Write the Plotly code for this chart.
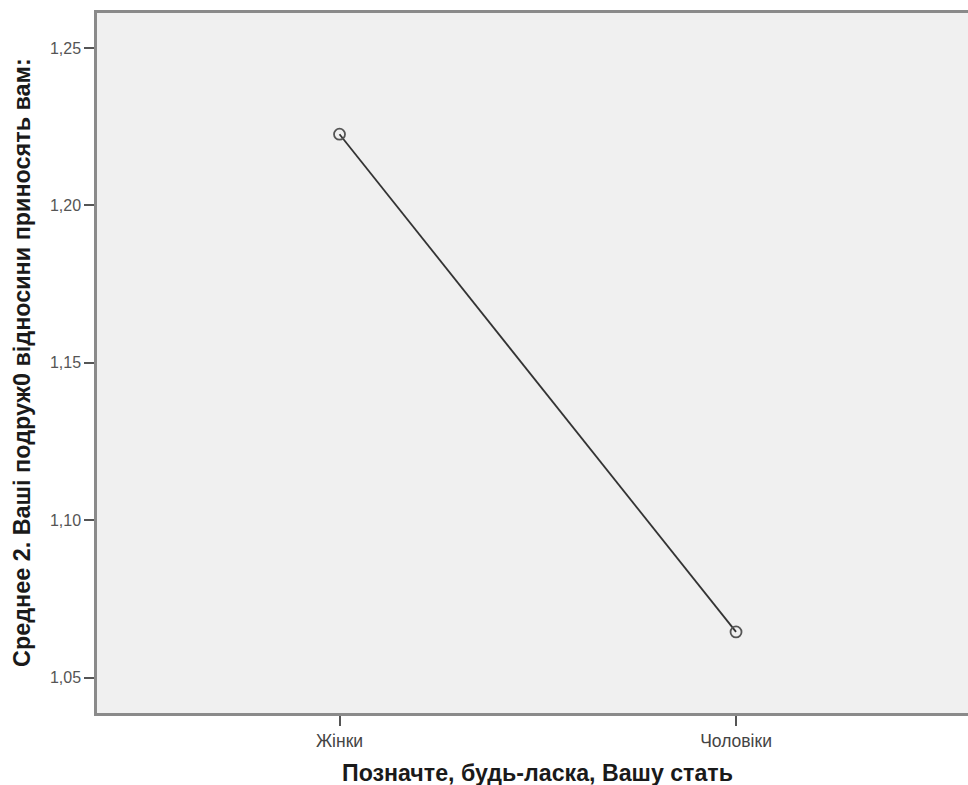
import plotly.graph_objects as go

categories = ["Жінки", "Чоловіки"]
means = [1.2226, 1.0645]
y_ticks = [1.05, 1.10, 1.15, 1.20, 1.25]

x_title = "Позначте, будь-ласка, Вашу стать"
y_title = "Среднее 2. Ваші подруж0 відносини приносять вам:"

fig = go.Figure()
fig.add_trace(go.Scatter(
    x=[0, 1], y=means, mode="lines+markers",
    line=dict(color="#333333", width=1.8),
    marker=dict(symbol="circle-open", size=11, color="#555555", line=dict(width=1.8)),
    hoverinfo="skip", showlegend=False,
))

fig.update_layout(
    width=968, height=785,
    margin=dict(l=97, r=0, t=13, b=72),
    paper_bgcolor="white", plot_bgcolor="#f0f0f0",
    separators=", ",
    font=dict(family="Liberation Sans, Arial, sans-serif", color="#444444"),
    xaxis=dict(
        range=[-0.6116, 1.585], tickmode="array", tickvals=[0, 1], ticktext=categories,
        showgrid=False, zeroline=False, showline=True, linecolor="#8a8a8a", linewidth=2.5,
        mirror=True, ticks="outside", ticklen=10, tickcolor="#555555", tickwidth=1.5,
        tickfont=dict(size=17.5, color="#444444"),
    ),
    yaxis=dict(
        range=[1.03875, 1.2611], tickmode="array", tickvals=y_ticks, tickformat=".2f",
        showgrid=False, zeroline=False, showline=True, linecolor="#8a8a8a", linewidth=2.5,
        ticks="outside", ticklen=10, tickcolor="#555555", tickwidth=1.5,
        tickfont=dict(size=16, color="#555555"),
    ),
)

fig.add_annotation(
    x=0.5, y=0, xref="x", yref="paper", yshift=-60, showarrow=False,
    text="<b>" + x_title + "</b>", font=dict(size=23.2, color="#1a1a1a"),
    yanchor="middle", xanchor="center",
)
fig.add_annotation(
    x=0, y=0.5, xref="paper", yref="paper", xshift=-75, showarrow=False,
    text="<b>" + y_title + "</b>", font=dict(size=23.4, color="#1a1a1a"),
    textangle=-90, xanchor="center", yanchor="middle",
)

fig.write_html(
    "out.html",
    config={"displayModeBar": False},
    post_script="document.body.style.margin='0px';document.body.style.overflow='hidden';",
)
